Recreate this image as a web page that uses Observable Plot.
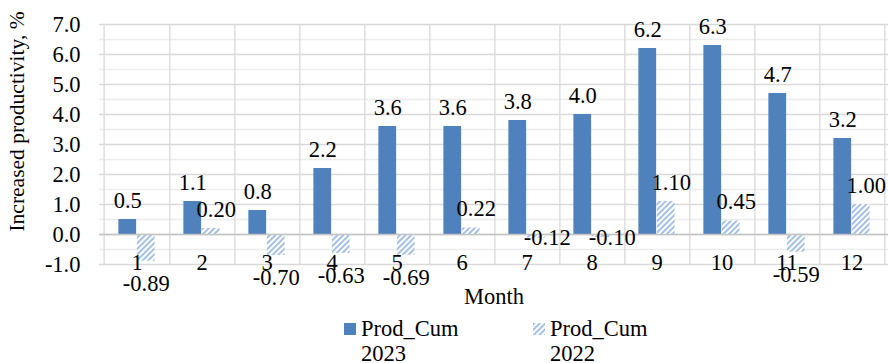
<!DOCTYPE html>
<html>
<head>
<meta charset="utf-8">
<script src="https://cdn.jsdelivr.net/npm/d3@7"></script>
<script src="https://cdn.jsdelivr.net/npm/@observablehq/plot@0.6"></script>
<style>
  html, body { margin: 0; padding: 0; background: #fff; }
  body { width: 888px; height: 363px; overflow: hidden; position: relative; font-family: "Liberation Serif", "Times New Roman", serif; }
  #chart svg { display: block; }
  .legend { position: relative; height: 47px; font-size: 22.5px; line-height: 25px; color: #000; }
  .legend .item { position: absolute; top: 0; display: flex; align-items: flex-start; }
  .legend .swatch { width: 12px; height: 12px; margin-top: 7px; margin-right: 5px; flex: none; }
</style>
</head>
<body>
<div id="chart"></div>
<div class="legend" id="legend"></div>
<script>
// Monthly cumulative productivity increase, %
const months = [1, 2, 3, 4, 5, 6, 7, 8, 9, 10, 11, 12];
const prod2023 = [0.5, 1.1, 0.8, 2.2, 3.6, 3.6, 3.8, 4.0, 6.2, 6.3, 4.7, 3.2];
const prod2022 = [-0.89, 0.20, -0.70, -0.63, -0.69, 0.22, -0.12, -0.10, 1.10, 0.45, -0.59, 1.00];
const seriesNames = [["Prod_Cum", "2023"], ["Prod_Cum", "2022"]];
const yTicks = [-1, 0, 1, 2, 3, 4, 5, 6, 7];
const yMinorTicks = [-0.5, 0.5, 1.5, 2.5, 3.5, 4.5, 5.5, 6.5];

const rows2023 = months.map((m, i) => ({month: m, value: prod2023[i]}));
const rows2022 = months.map((m, i) => ({month: m, value: prod2022[i]}));

const W = 888, H = 316;
const mL = 99, mR = 0, mT = 24, mB = 52;
const bw = (W - mL - mR) / months.length;   // band width per month
const barW = 18.5;                           // width of each bar
const blue = "#4f81bd";
const hatchColor = "#8fb1dc";
const fs = 22.5;

// hatch pattern used by the 2022 bars
const defs = () => {
  const d = d3.create("svg:defs");
  const p = d.append("pattern")
    .attr("id", "hatch2022")
    .attr("patternUnits", "userSpaceOnUse")
    .attr("width", 4).attr("height", 4)
    .attr("patternTransform", "rotate(45)");
  p.append("rect").attr("width", 4).attr("height", 4).attr("fill", "#fff");
  p.append("line").attr("x1", 1).attr("y1", 0).attr("x2", 1).attr("y2", 4)
    .attr("stroke", hatchColor).attr("stroke-width", 1.6);
  return d.node();
};

const chart = Plot.plot({
  width: W,
  height: H,
  marginLeft: mL,
  marginRight: mR,
  marginTop: mT,
  marginBottom: mB,
  style: {fontFamily: "Liberation Serif, Times New Roman, serif", fontSize: `${fs}px`, color: "#000", background: "#fff"},
  x: {type: "band", domain: months, padding: 0},
  y: {domain: [-1, 7]},
  marks: [
    defs,
    Plot.ruleY(yMinorTicks, {stroke: "#ececec", strokeWidth: 1.3}),
    Plot.ruleY(yTicks, {stroke: "#d9d9d9", strokeWidth: 1.3}),
    Plot.ruleX(months, {x: d => d, dx: bw / 2, stroke: "#d9d9d9", strokeWidth: 1.3}),
    Plot.ruleX([months[0]], {x: d => d, dx: -bw / 2, stroke: "#d9d9d9", strokeWidth: 1.3}),
    Plot.barY(rows2023, {x: "month", y: "value", fill: blue, insetLeft: bw / 2 - barW, insetRight: bw / 2}),
    Plot.barY(rows2022, {x: "month", y: "value", fill: "url(#hatch2022)", insetLeft: bw / 2, insetRight: bw / 2 - barW}),
    Plot.ruleY([0], {stroke: "#c4c4c4", strokeWidth: 1.3}),
    Plot.axisY({ticks: yTicks, tickSize: 0, tickPadding: 19, tickFormat: d => d.toFixed(1), label: null, fontSize: fs}),
    Plot.axisX({tickSize: 0, tickPadding: -10, label: null, fontSize: fs}),
    Plot.text(["Increased productivity, %"], {text: d => d, frameAnchor: "left", rotate: -90, dx: -82, dy: -23, textAnchor: "middle", fontSize: 21.5}),
    Plot.text(["Month"], {text: d => d, frameAnchor: "bottom", lineAnchor: "top", dy: 24, fontSize: fs}),
    // value labels
    Plot.text(rows2023, {x: "month", y: "value", text: d => d.value.toFixed(1), dx: -barW / 2, dy: -12, lineAnchor: "bottom", fontSize: fs}),
    Plot.text(rows2022.filter(d => d.value >= 0), {x: "month", y: "value", text: d => d.value.toFixed(2), dx: barW / 2 + 5, dy: -12, lineAnchor: "bottom", fontSize: fs}),
    Plot.text(rows2022.filter(d => d.value < -0.3), {x: "month", y: "value", text: d => d.value.toFixed(2), dx: barW / 2, dy: 14, lineAnchor: "top", fontSize: fs}),
    Plot.text(rows2022.filter(d => d.value < 0 && d.value >= -0.3), {x: "month", y: "value", text: d => d.value.toFixed(2), dx: barW / 2 + 11, lineAnchor: "middle", fontSize: fs})
  ]
});
document.getElementById("chart").append(chart);

// legend
const legend = document.getElementById("legend");
const legendLeft = [344, 533];
const swatches = [
  `<svg class="swatch" viewBox="0 0 12 12"><rect width="12" height="12" fill="${blue}"/></svg>`,
  `<svg class="swatch" viewBox="0 0 12 12"><defs><pattern id="hatchLegend" patternUnits="userSpaceOnUse" width="4" height="4" patternTransform="rotate(45)"><rect width="4" height="4" fill="#fff"/><line x1="1" y1="0" x2="1" y2="4" stroke="${hatchColor}" stroke-width="1.6"/></pattern></defs><rect width="12" height="12" fill="url(#hatchLegend)"/></svg>`
];
seriesNames.forEach((name, i) => {
  const item = document.createElement("div");
  item.className = "item";
  item.style.left = legendLeft[i] + "px";
  item.innerHTML = swatches[i] + `<div>${name[0]}<br>${name[1]}</div>`;
  legend.append(item);
});
</script>
</body>
</html>
